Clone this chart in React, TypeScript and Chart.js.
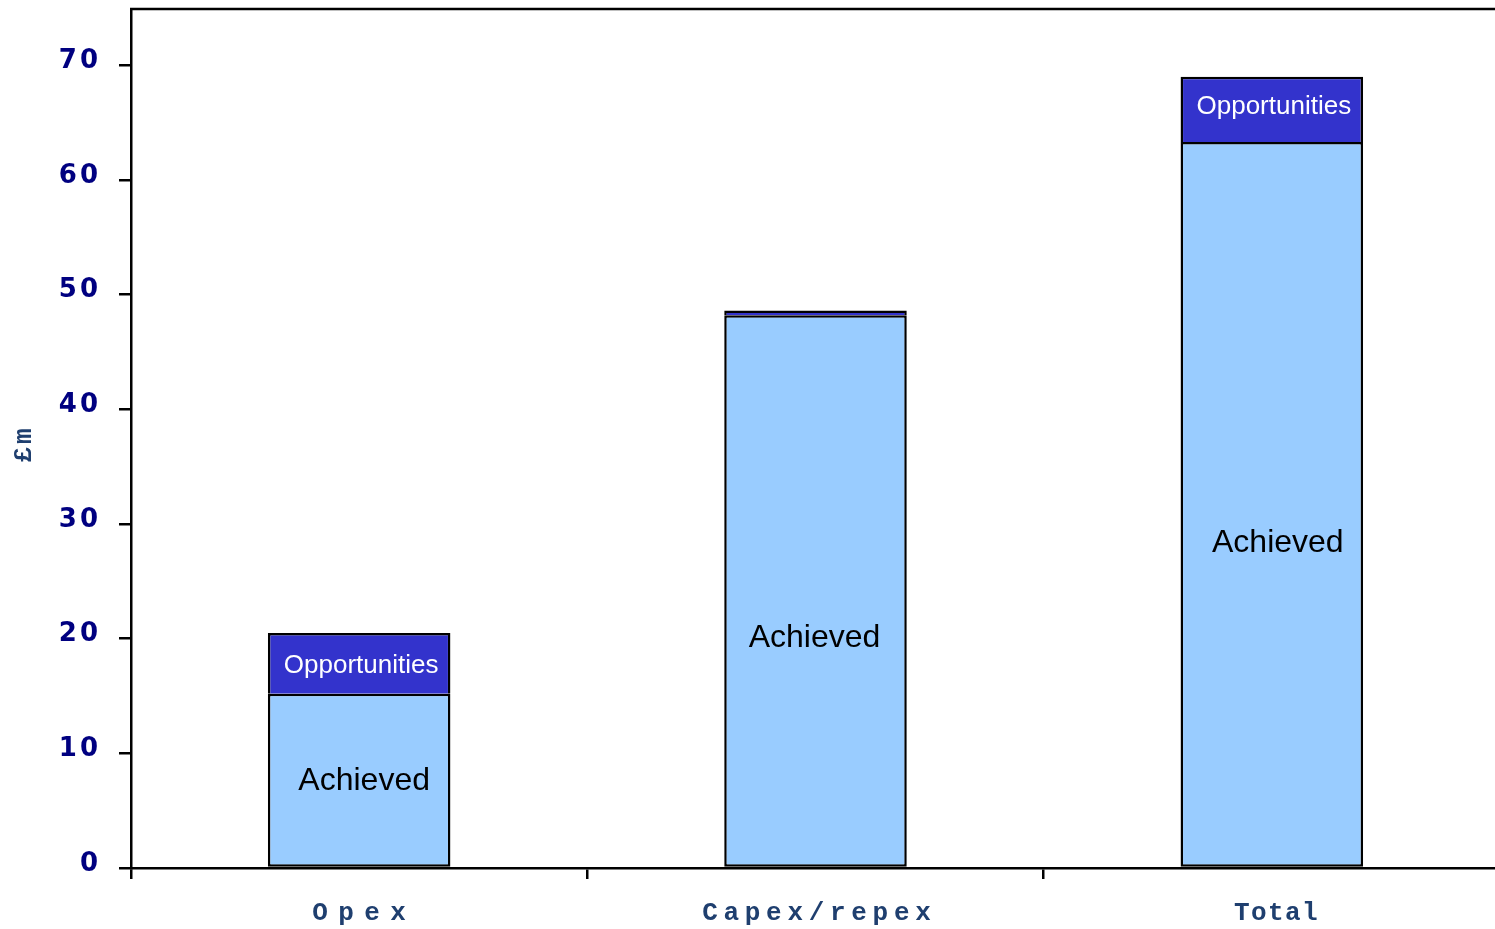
import { useEffect, useRef } from "react";
import { Chart, registerables } from "chart.js";

Chart.register(...registerables);

// Savings by spend type, £m
const categories = ["Opex", "Capex/repex", "Total"];
const achieved = [15.2, 48.2, 63.3];
const opportunities = [5.3, 0.4, 5.7];
const yTickValues = [0, 10, 20, 30, 40, 50, 60, 70];
const yMax = 74.9;
const yTitle = "£m";

const segmentNames = ["Achieved", "Opportunities"];

// Where each in-bar label sits: fraction of the segment height from its base, plus a small x nudge
const achievedLabelLift = [0.51, 0.42, 0.45];
const achievedLabelNudge = [5, -1, 6];
const opportunityLabelLift = [0.5, 0.5, 0.58];
const LABEL_DROP = 3;

// Per-category letter spacing and x nudge of the axis labels
const categorySpacing = [10.4, 5.7, 1.4];
const categoryNudge = [0, 1, 4];

const AXIS_BLUE = "#1F3F6F";
const LINE_W = 2.5;

const framePlugin = {
  id: "frame",
  beforeDraw(chart: any) {
    chart.ctx.letterSpacing = "3px";
  },
  beforeDatasetsDraw(chart: any) {
    chart.ctx.letterSpacing = "0px";
  },
  afterDatasetsDraw(chart: any) {
    const { ctx } = chart;
    ctx.save();
    ctx.letterSpacing = "0px";
    ctx.textAlign = "center";
    ctx.textBaseline = "middle";
    const ach = chart.getDatasetMeta(0).data;
    ach.forEach((el: any, i: number) => {
      const h = el.base - el.y;
      if (h < 40) return;
      ctx.fillStyle = "#000";
      ctx.font = '32px "Liberation Sans", Arial, sans-serif';
      ctx.fillText(
        segmentNames[0],
        el.x + achievedLabelNudge[i],
        el.base - h * achievedLabelLift[i] + LABEL_DROP
      );
    });
    const opp = chart.getDatasetMeta(1).data;
    opp.forEach((el: any, i: number) => {
      const h = el.base - el.y;
      if (h < 30) return;
      ctx.fillStyle = "#FFFFFF";
      ctx.font = '26px "Liberation Sans", Arial, sans-serif';
      ctx.fillText(segmentNames[1], el.x + 2, el.base - h * opportunityLabelLift[i] + LABEL_DROP);
    });
    ctx.restore();
  },
  afterDraw(chart: any) {
    const { ctx, chartArea, scales } = chart;
    ctx.save();
    // top frame line
    ctx.strokeStyle = "#000";
    ctx.lineWidth = LINE_W;
    ctx.beginPath();
    ctx.moveTo(chartArea.left - 1, chartArea.top);
    ctx.lineTo(chartArea.right, chartArea.top);
    ctx.stroke();

    // category labels under the x axis
    ctx.fillStyle = AXIS_BLUE;
    ctx.font = 'bold 26px "Liberation Mono", "Courier New", monospace';
    ctx.textAlign = "left";
    ctx.textBaseline = "middle";
    categories.forEach((c, i) => {
      const sp = categorySpacing[i];
      ctx.letterSpacing = sp + "px";
      const w = ctx.measureText(c).width - sp;
      const x = scales.x.getPixelForValue(i) + categoryNudge[i];
      ctx.fillText(c, x - w / 2, 913);
    });

    // rotated y axis title
    ctx.letterSpacing = "3px";
    const tw = ctx.measureText(yTitle).width - 3;
    ctx.translate(24, (chartArea.top + chartArea.bottom) / 2 + 7);
    ctx.rotate(-Math.PI / 2);
    ctx.fillText(yTitle, -tw / 2, 0);
    ctx.letterSpacing = "0px";
    ctx.restore();
  },
};

export default function App() {
  const canvasRef = useRef<HTMLCanvasElement | null>(null);

  useEffect(() => {
    const canvas = canvasRef.current;
    if (!canvas) return;
    const chart = new Chart(canvas, {
      type: "bar",
      data: {
        labels: categories,
        datasets: [
          {
            label: segmentNames[0],
            data: achieved,
            backgroundColor: "#99CCFF",
            borderColor: "#000000",
            borderWidth: LINE_W,
            borderSkipped: false,
            barPercentage: 0.4,
            categoryPercentage: 1,
          },
          {
            label: segmentNames[1],
            data: opportunities,
            backgroundColor: "#3333CC",
            borderColor: "#000000",
            borderWidth: LINE_W,
            borderSkipped: "bottom",
            barPercentage: 0.4,
            categoryPercentage: 1,
          },
        ],
      },
      options: {
        responsive: false,
        animation: false,
        devicePixelRatio: 1,
        layout: { padding: { top: 9, right: 0, left: 0, bottom: 0 } },
        plugins: {
          legend: { display: false },
          tooltip: { enabled: false },
        },
        scales: {
          x: {
            stacked: true,
            offset: true,
            grid: {
              display: true,
              offset: true,
              drawOnChartArea: false,
              drawTicks: true,
              tickLength: 11,
              color: "#000",
              lineWidth: LINE_W,
            },
            border: { display: true, color: "#000", width: LINE_W },
            ticks: { display: false },
            afterFit: (s: any) => {
              s.height = 61;
              s.paddingLeft = 0;
              s.paddingRight = 0;
            },
          },
          y: {
            stacked: true,
            min: 0,
            max: yMax,
            afterBuildTicks: (s: any) => {
              s.ticks = yTickValues.map((v) => ({ value: v }));
            },
            grid: {
              drawOnChartArea: false,
              drawTicks: true,
              tickLength: 12,
              color: "#000",
              lineWidth: LINE_W,
            },
            border: { display: true, color: "#000", width: LINE_W },
            ticks: {
              color: "#000080",
              font: { family: '"DejaVu Sans", sans-serif', size: 26, weight: "bold" },
              padding: 18,
              labelOffset: -4,
            },
            title: { display: false },
            afterFit: (s: any) => {
              s.width = 131;
              s.paddingTop = 0;
              s.paddingBottom = 0;
            },
          },
        },
      },
      plugins: [framePlugin],
    });
    return () => chart.destroy();
  }, []);

  return (
    <div
      style={{
        position: "fixed",
        left: 0,
        top: 0,
        width: 1495,
        height: 929,
        overflow: "hidden",
        background: "#fff",
      }}
    >
      <canvas ref={canvasRef} width={1500} height={929} style={{ display: "block" }} />
    </div>
  );
}
